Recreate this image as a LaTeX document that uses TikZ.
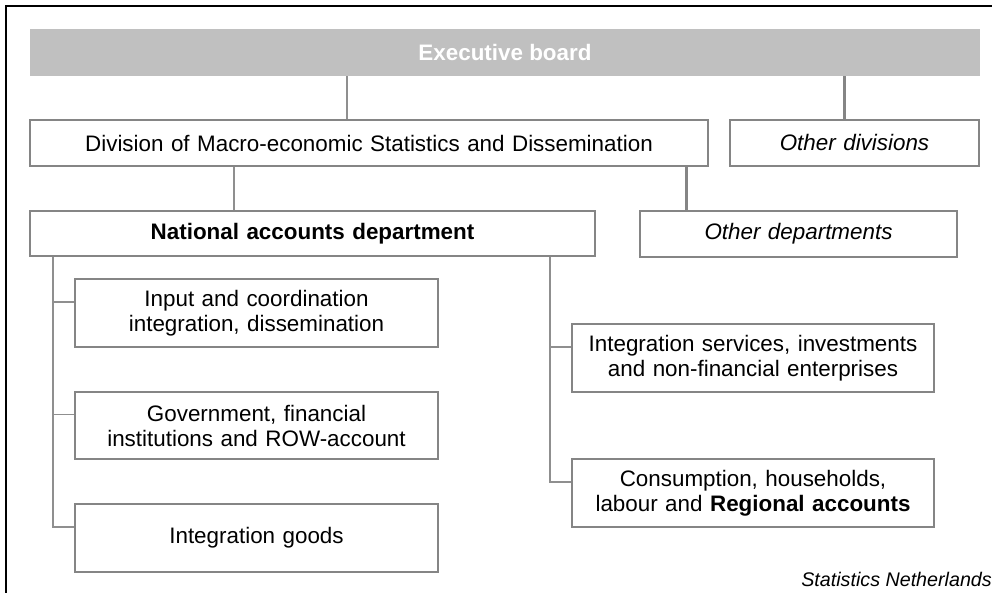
\documentclass[tikz,border=0pt]{standalone}
\usepackage{fontspec}
\setmainfont{Liberation Sans}
\definecolor{barfill}{HTML}{C0C0C0}
\definecolor{boxline}{HTML}{858585}
\definecolor{connline}{HTML}{8F8F8F}
\begin{document}
\begin{tikzpicture}[x=1pt,y=-1pt,
  every node/.style={font=\fontsize{22.4}{25}\selectfont, inner sep=0pt, align=center},
  orgbox/.style={draw=boxline, line width=1.6pt, fill=white, text width=#1},
  orgbox/.default=300pt,
  conn/.style={draw=connline, line width=1.6pt},
  thickconn/.style={draw=boxline, line width=3pt}]
\useasboundingbox (0,0) rectangle (992,593);
% outer frame (partially visible)
\draw[line width=2pt, black] (6,593) -- (6,6) -- (992,6);
% executive board
\node[fill=barfill, minimum width=950pt, minimum height=47pt, text=white, font=\fontsize{22.4}{25}\selectfont\bfseries] (exec) at (505,52.5) {Executive board};
% divisions
\node[orgbox=660pt, minimum width=678pt, minimum height=46pt] (div) at (369,143) {Division of Macro-economic Statistics and Dissemination};
\node[orgbox=240pt, minimum width=249pt, minimum height=46pt] (odiv) at (854.5,143) {\itshape Other divisions};
% departments
\node[orgbox=550pt, minimum width=565pt, minimum height=45pt, font=\fontsize{22.4}{25}\selectfont\bfseries] (nad) at (312.5,233.5) {National accounts department};
\node[orgbox=300pt, minimum width=317pt, minimum height=46pt] (odep) at (798.5,234) {\itshape Other departments};
% left sub-units
\node[orgbox=350pt, minimum width=363pt, minimum height=68pt] (l1) at (256.5,313) {Input and coordination\\integration, dissemination};
\node[orgbox=350pt, minimum width=363pt, minimum height=67pt] (l2) at (256.5,425.5) {Government, financial\\institutions and ROW-account};
\node[orgbox=350pt, minimum width=363pt, minimum height=68pt] (l3) at (256.5,538) {Integration goods};
% right sub-units
\node[orgbox=350pt, minimum width=362pt, minimum height=68pt] (r1) at (753,358) {Integration services, investments\\and non-financial enterprises};
\node[orgbox=350pt, minimum width=362pt, minimum height=68pt] (r2) at (753,493) {Consumption, households,\\labour and \textbf{Regional accounts}};
% source
\node[anchor=base east, font=\fontsize{19.7}{22}\selectfont\itshape] (src) at (992,586) {Statistics Netherlands};
% connector x positions
\coordinate (xa) at (347,0);
\coordinate (xb) at (844,0);
\coordinate (xc) at (234,0);
\coordinate (xd) at (686,0);
\coordinate (lt) at (53,0);
\coordinate (rt) at (550,0);
\draw[conn] (exec.south -| xa) -- (div.north -| xa);
\draw[thickconn] (exec.south -| xb) -- (odiv.north -| xb);
\draw[conn] (div.south -| xc) -- (nad.north -| xc);
\draw[thickconn] (div.south -| xd) -- (odep.north -| xd);
% branch points
\coordinate (b1) at ([yshift=11pt]l1.west);
\coordinate (b2) at ([yshift=11pt]l2.west);
\coordinate (b3) at ([yshift=11pt]l3.west);
\coordinate (c1) at ([yshift=11pt]r1.west);
\coordinate (c2) at ([yshift=11pt]r2.west);
\draw[conn] (nad.south -| lt) |- (b3);
\draw[conn] (b1 -| lt) -- (b1);
\draw[conn] (b2 -| lt) -- (b2);
\draw[conn] (nad.south -| rt) |- (c2);
\draw[conn] (c1 -| rt) -- (c1);
\end{tikzpicture}
\end{document}
